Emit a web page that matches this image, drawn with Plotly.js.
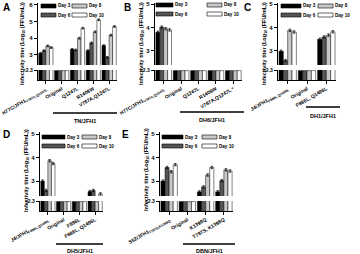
<!DOCTYPE html>
<html>
<head>
<meta charset="utf-8">
<script src="https://cdn.plot.ly/plotly-3.0.1.min.js"></script>
<style>
  html, body { margin: 0; padding: 0; background: #fff; }
  #chart { width: 360px; height: 254px; }
</style>
</head>
<body>
<div id="chart"></div>
<script>
// Infectivity titers (log10 FFU/mL) of recombinant HCV cultures, days 3-10.
// Titers below the detection limit are plotted at the limit (<2.3).
const days = ['Day 3', 'Day 6', 'Day 8', 'Day 10'];
const LOD = 2.3;

// A - TN/JFH1
const catsA = ['H77C/JFH1<sub>V787A,Q1247L</sub>', 'Original', 'Q1247L', 'R1408W', 'V787A,Q1247L'];
const aDay3  = [3.10, LOD, 3.34, 3.26, 3.56];
const aDay6  = [3.26, LOD, 3.30, 3.72, 2.86];
const aDay8  = [3.54, LOD, 4.00, 4.38, 4.18];
const aDay10 = [3.44, LOD, 4.60, 5.10, 4.70];

// B - DH6/JFH1
const catsB = ['H77C/JFH1<sub>V787A,Q1247L</sub>', 'Original', 'Q1247L', 'R1408W', 'V787A,Q1247L *'];
const bDay3  = [3.80, LOD, LOD, LOD, LOD];
const bDay6  = [4.02, LOD, LOD, LOD, LOD];
const bDay8  = [3.95, LOD, LOD, LOD, LOD];
const bDay10 = [3.90, LOD, LOD, LOD, LOD];

// C - DH1/JFH1
const catsC = ['J4/JFH1<sub>F886L,Q1496L</sub>', 'Original', 'F886L, Q1496L'];
const cDay3  = [2.99, LOD, 3.50];
const cDay6  = [2.59, LOD, 3.60];
const cDay8  = [3.88, LOD, 3.68];
const cDay10 = [3.81, LOD, 3.82];

// D - DH5/JFH1
const catsD = ['J4/JFH1<sub>F886L,Q1496L</sub>', 'Original', 'F886L', 'F886L, Q1496L'];
const dDay3  = [3.00, LOD, LOD, 2.55];
const dDay6  = [2.60, LOD, LOD, 2.60];
const dDay8  = [3.87, LOD, LOD, LOD];
const dDay10 = [3.75, LOD, LOD, 2.45];

// E - DBN/JFH1
const catsE = ['S52/JFH1<sub>T797S,K1398Q</sub>', 'Original', 'K1398Q', 'T797S, K1398Q'];
const eDay3  = [3.00, LOD, 2.54, 2.54];
const eDay6  = [3.58, LOD, 2.75, 3.02];
const eDay8  = [3.40, LOD, 3.26, 3.48];
const eDay10 = [3.70, LOD, 3.58, 3.43];

const dayFill = ['#000000', '#555555', '#c8c8c8', '#ffffff'];

// Page geometry in pixels
const W = 360, H = 254;
const px = v => v / W;
const py = v => 1 - v / H;

const panels = [
  { letter: 'A', cats: catsA, series: [aDay3, aDay6, aDay8, aDay10], strain: 'TN/JFH1',
    yr: [2.4, 6.1], yt: [3, 4, 5, 6],
    xd: [38, 117], up: [3, 65], low: [70, 80], letterAt: [6, 8], titleAt: [22, 44],
    legRows: [6, 15], legCols: [[41, 56], [72, 87]],
    brk: { y: 113, x: [53, 117], ty: 121 } },
  { letter: 'B', cats: catsB, series: [bDay3, bDay6, bDay8, bDay10], strain: 'DH6/JFH1',
    yr: [2.4, 5.05], yt: [3, 4, 5],
    xd: [155, 242], up: [3, 65], low: [70, 80], letterAt: [127, 8], titleAt: [141, 44],
    legRows: [5, 14], legCols: [[156, 173], [207, 222]],
    brk: { y: 112, x: [180, 244], ty: 120 } },
  { letter: 'C', cats: catsC, series: [cDay3, cDay6, cDay8, cDay10], strain: 'DH1/JFH1',
    yr: [2.4, 5.05], yt: [3, 4, 5],
    xd: [278, 336], up: [3, 65], low: [70, 80], letterAt: [247, 8], titleAt: [264, 44],
    legRows: [6, 15], legCols: [[281, 301], [318, 333]],
    brk: { y: 107, x: [306, 340], ty: 116 } },
  { letter: 'D', cats: catsD, series: [dDay3, dDay6, dDay8, dDay10], strain: 'DH5/JFH1',
    yr: [2.36, 5.1], yt: [3, 4, 5],
    xd: [40, 103], up: [132, 196], low: [201, 211], letterAt: [6, 134], titleAt: [26, 170],
    legRows: [137, 146], legCols: [[42, 65], [82, 97]],
    brk: { y: 244, x: [56, 103], ty: 251 } },
  { letter: 'E', cats: catsE, series: [eDay3, eDay6, eDay8, eDay10], strain: 'DBN/JFH1',
    yr: [2.36, 5.1], yt: [3, 4, 5],
    xd: [160, 233], up: [132, 196], low: [201, 211], letterAt: [126, 134], titleAt: [146, 170],
    legRows: [137, 146], legCols: [[162, 183], [202, 217]],
    brk: { y: 244, x: [183, 235], ty: 251 } }
];

const FONT = 'Liberation Sans, Arial, sans-serif';
const traces = [];
const layout = {
  width: W, height: H,
  margin: { l: 0, r: 0, t: 0, b: 0 },
  paper_bgcolor: '#fff', plot_bgcolor: 'rgba(0,0,0,0)',
  showlegend: false,
  barmode: 'group', bargap: 0.1, bargroupgap: 0,
  font: { family: FONT, size: 6, color: '#000', weight: 'bold' },
  shapes: [], annotations: []
};

panels.forEach((p, i) => {
  const n = i + 1;
  const xId = 'x' + n, yUp = 'y' + n, yLow = 'y' + (n + 5);

  p.series.forEach((vals, d) => {
    const common = {
      type: 'bar', x: p.cats, y: vals, name: days[d],
      marker: { color: dayFill[d], line: { color: '#000', width: 0.5 } },
      xaxis: xId, hoverinfo: 'skip'
    };
    traces.push(Object.assign({}, common, {
      yaxis: yUp,
      error_y: { type: 'data', array: vals.map(v => v > LOD ? 0.05 : 0),
                 visible: true, color: '#000', thickness: 0.7, width: 1.2 }
    }));
    traces.push(Object.assign({}, common, { yaxis: yLow }));
  });

  layout['xaxis' + n] = {
    domain: [px(p.xd[0]), px(p.xd[1])], anchor: yLow,
    type: 'category', showgrid: false, zeroline: false,
    showline: true, linecolor: '#000', linewidth: 1,
    ticks: 'outside', ticklen: 3, tickwidth: 1, tickcolor: '#000',
    tickangle: -30, tickfont: { family: FONT, size: 5, weight: 'bold' },
    fixedrange: true
  };
  layout['yaxis' + n] = {
    domain: [py(p.up[1]), py(p.up[0])], anchor: xId,
    range: p.yr, tickvals: p.yt, showgrid: false, zeroline: false,
    showline: true, linecolor: '#000', linewidth: 1.2,
    ticks: 'outside', ticklen: 3, tickwidth: 1, tickcolor: '#000',
    tickfont: { family: FONT, size: 6, weight: 'bold' }, fixedrange: true
  };
  layout['yaxis' + (n + 5)] = {
    domain: [py(p.low[1]), py(p.low[0])], anchor: xId,
    range: [2.0, 2.32], tickvals: [LOD], ticktext: ['<2.3'], showgrid: false, zeroline: false,
    showline: true, linecolor: '#000', linewidth: 1.2,
    ticks: 'outside', ticklen: 3, tickwidth: 1, tickcolor: '#000',
    tickfont: { family: FONT, size: 5, weight: 'bold' }, fixedrange: true
  };

  // panel letter
  layout.annotations.push({
    xref: 'paper', yref: 'paper', x: px(p.letterAt[0]), y: py(p.letterAt[1]),
    text: p.letter, showarrow: false, xanchor: 'center', yanchor: 'middle',
    font: { family: FONT, size: 10, weight: 'bold' }
  });
  // y-axis title spanning both segments
  layout.annotations.push({
    xref: 'paper', yref: 'paper', x: px(p.titleAt[0]), y: py(p.titleAt[1]),
    text: 'Infectivity titer (Log<sub>10</sub> (FFU/mL))', textangle: -90,
    showarrow: false, xanchor: 'center', yanchor: 'middle',
    font: { family: FONT, size: 5.5, weight: 'bold' }
  });

  // legend: two columns, two rows
  const order = [[0, 0, 0], [1, 0, 1], [2, 1, 0], [3, 1, 1]]; // day, column, row
  order.forEach(([d, c, r]) => {
    const yc = p.legRows[r];
    const [x0, x1] = p.legCols[c];
    layout.shapes.push({
      type: 'rect', xref: 'paper', yref: 'paper', layer: 'below',
      x0: px(x0), x1: px(x1), y0: py(yc + 2), y1: py(yc - 2),
      fillcolor: dayFill[d], line: { color: '#000', width: 0.6 }
    });
    layout.annotations.push({
      xref: 'paper', yref: 'paper', x: px(x1 + 1), y: py(yc),
      text: days[d], showarrow: false, xanchor: 'left', yanchor: 'middle',
      borderpad: 0, font: { family: FONT, size: 4.6, weight: 'bold' }
    });
  });

  // bracket naming the recombinant backbone
  layout.shapes.push({
    type: 'line', xref: 'paper', yref: 'paper',
    x0: px(p.brk.x[0]), x1: px(p.brk.x[1]), y0: py(p.brk.y), y1: py(p.brk.y),
    line: { color: '#000', width: 1.3 }
  });
  layout.annotations.push({
    xref: 'paper', yref: 'paper', x: px((p.brk.x[0] + p.brk.x[1]) / 2), y: py(p.brk.ty),
    text: p.strain, showarrow: false, xanchor: 'center', yanchor: 'middle',
    font: { family: FONT, size: 5.5, weight: 'bold' }
  });
});

Plotly.newPlot('chart', traces, layout, { displayModeBar: false, staticPlot: true });
</script>
</body>
</html>
